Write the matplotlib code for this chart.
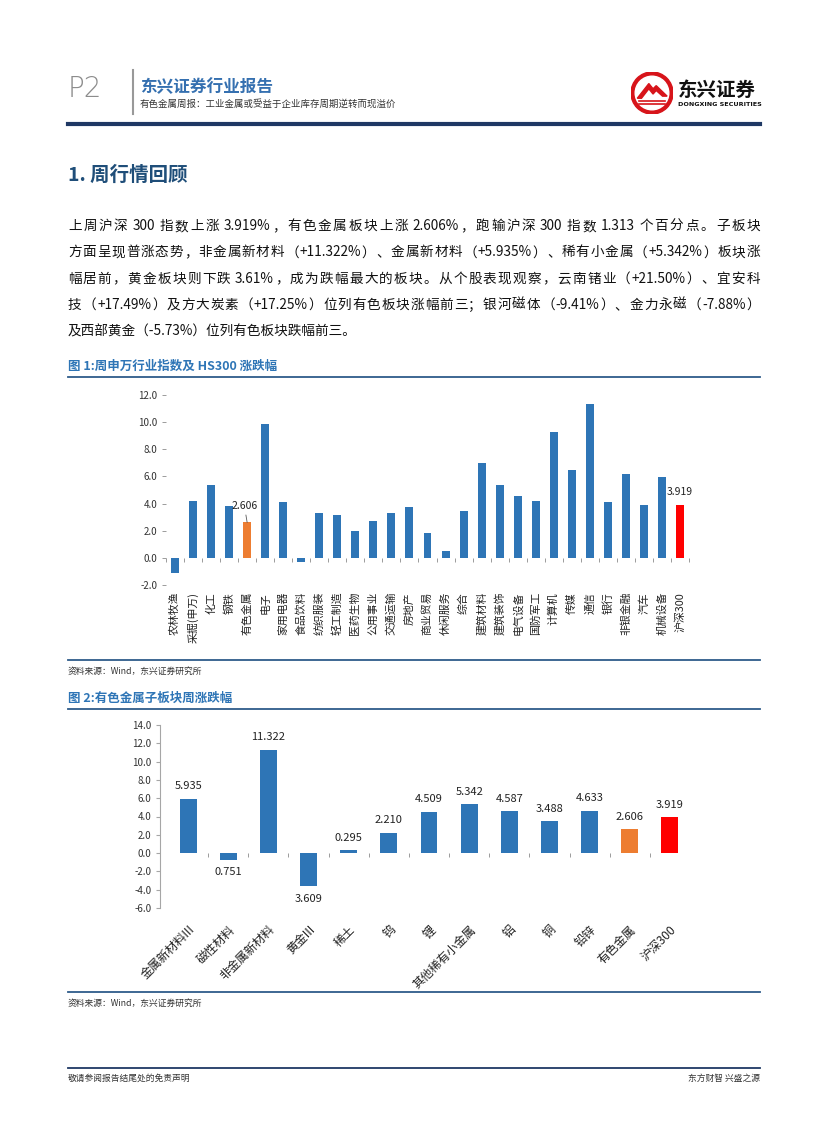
import re
import numpy as np
import matplotlib
matplotlib.use("Agg")
import matplotlib.pyplot as plt
from matplotlib.patches import Circle, Polygon

plt.rcParams['font.family'] = ['Noto Sans CJK SC', 'DejaVu Sans']
plt.rcParams['axes.unicode_minus'] = False

W, H = 827, 1122

# 图1: 申万行业周涨跌幅 (%)
sw_names = ['农林牧渔', '采掘(申万)', '化工', '钢铁', '有色金属', '电子', '家用电器',
            '食品饮料', '纺织服装', '轻工制造', '医药生物', '公用事业', '交通运输',
            '房地产', '商业贸易', '休闲服务', '综合', '建筑材料', '建筑装饰', '电气设备',
            '国防军工', '计算机', '传媒', '通信', '银行', '非银金融', '汽车', '机械设备',
            '沪深300']
sw_chg = [-1.10, 4.17, 5.35, 3.80, 2.606, 9.84, 4.10, -0.30, 3.29, 3.14, 1.96, 2.70,
          3.29, 3.73, 1.82, 0.49, 3.44, 6.97, 5.35, 4.54, 4.17, 9.25, 6.45, 11.31,
          4.10, 6.16, 3.88, 5.94, 3.919]

# 图2: 有色金属子板块周涨跌幅 (%)
sub_names = ['金属新材料III', '磁性材料', '非金属新材料', '黄金III', '稀土', '钨', '锂',
             '其他稀有小金属', '铝', '铜', '铅锌', '有色金属', '沪深300']
sub_chg = [5.935, -0.751, 11.322, -3.609, 0.295, 2.210, 4.509, 5.342, 4.587, 3.488,
           4.633, 2.606, 3.919]
sub_text = ['5.935', '0.751', '11.322', '3.609', '0.295', '2.210', '4.509', '5.342',
            '4.587', '3.488', '4.633', '2.606', '3.919']

body_lines = [
    '上周沪深 300 指数上涨 3.919%，有色金属板块上涨 2.606%，跑输沪深 300 指数 1.313 个百分点。子板块',
    '方面呈现普涨态势，非金属新材料（+11.322%）、金属新材料（+5.935%）、稀有小金属（+5.342%）板块涨',
    '幅居前，黄金板块则下跌 3.61%，成为跌幅最大的板块。从个股表现观察，云南锗业（+21.50%）、宜安科',
    '技（+17.49%）及方大炭素（+17.25%）位列有色板块涨幅前三；银河磁体（-9.41%）、金力永磁（-7.88%）',
    '及西部黄金（-5.73%）位列有色板块跌幅前三。',
]

BLUE = '#2E75B6'
ORANGE = '#ED7D31'
RED = '#FF0000'
NAVY = '#1F4E79'
GRID = '#8C8C8C'

fig = plt.figure(figsize=(W / 100, H / 100), dpi=100)
renderer = fig.canvas.get_renderer()


def fx(x):
    return x / W


def fy(y):
    return 1 - y / H


def hline(y, x0=68, x1=760, color=NAVY, lw=1.2):
    fig.add_artist(plt.Line2D([fx(x0), fx(x1)], [fy(y), fy(y)], color=color, lw=lw))


def text_w(s, size):
    # 末尾加 '|' 以便把空格也算进宽度
    t = fig.text(0, 0, s + '|', fontsize=size)
    w = t.get_window_extent(renderer).width
    t.remove()
    return w


def justified(line, y, size, x0=68, x1=760, last=False):
    if last:
        fig.text(fx(x0), fy(y), line, fontsize=size, color='#111111', va='center')
        return
    starts = [m.start() for m in re.finditer(r'[A-Za-z0-9.%+\-]+|[^\sA-Za-z0-9.%+\-]', line)]
    bar = text_w('', size)
    natural = text_w(line, size) - bar
    extra = (x1 - x0 - natural) / (len(starts) - 1)
    for i, st in enumerate(starts):
        end = starts[i + 1] if i + 1 < len(starts) else len(line)
        tok = line[st:end].strip()
        x = x0 + (text_w(line[:st], size) - bar) + extra * i
        fig.text(fx(x), fy(y), tok, fontsize=size, color='#111111', va='center')


# ---- 页眉 ----
fig.text(fx(68), fy(89), 'P2', fontsize=20, color='#8C8C8C', va='center',
         family=['DejaVu Sans'], fontweight='light')
fig.add_artist(plt.Line2D([fx(133), fx(133)], [fy(70), fy(114)], color='#999999', lw=1.5))
fig.text(fx(140), fy(87), '东兴证券行业报告', fontsize=12, fontweight='bold',
         color='#3570B0', va='center')
fig.text(fx(140), fy(104), '有色金属周报：工业金属或受益于企业库存周期逆转而现溢价',
         fontsize=6.8, color='#333333', va='center')

ax_logo = fig.add_axes([fx(631), fy(114), 42 / W, 42 / H])
ax_logo.set_xlim(-1, 1)
ax_logo.set_ylim(-1, 1)
ax_logo.axis('off')
ax_logo.add_patch(Circle((0, 0), 1.0, color='#D7141A'))
ax_logo.add_patch(Circle((0, 0), 0.8, color='white'))
ax_logo.add_patch(Polygon([(-0.7, -0.25), (-0.15, 0.45), (0.05, 0.2), (0.2, 0.35),
                           (0.72, -0.15), (0.5, -0.15), (0.2, 0.12), (0.05, -0.05),
                           (-0.15, 0.2), (-0.5, -0.25)], color='#D7141A'))
for dy in (-0.38, -0.5):
    ax_logo.plot([-0.6, 0.6], [dy, dy], color='#D7141A', lw=1.2)
fig.text(fx(678), fy(90), '东兴证券', fontsize=14, fontweight='bold', color='#111111',
         va='center')
fig.text(fx(678), fy(104), 'DONGXING SECURITIES', fontsize=4.6, fontweight='bold',
         color='#111111', va='center', family=['DejaVu Sans'])

hline(124, color='#1F3864', lw=3)

# ---- 正文 ----
fig.text(fx(68), fy(175), '1. 周行情回顾', fontsize=14, fontweight='bold', color=NAVY,
         va='center')
for i, line in enumerate(body_lines):
    justified(line, 226 + i * 26.3, 9.8, last=(i == len(body_lines) - 1))

# ---- 图1 ----
fig.text(fx(68), fy(366), '图 1:周申万行业指数及 HS300 涨跌幅', fontsize=9, fontweight='bold',
         color=BLUE, va='center')
hline(377, color='#2E5C8A', lw=1.3)

ax1 = fig.add_axes([fx(166), fy(585), (689 - 166) / W, (585 - 395) / H])
x1 = np.arange(len(sw_names))
c1 = [BLUE] * len(sw_names)
c1[sw_names.index('有色金属')] = ORANGE
c1[-1] = RED
ax1.bar(x1, sw_chg, width=0.44, color=c1)
ax1.set_xlim(-0.5, len(sw_names) - 0.5)
ax1.set_ylim(-2, 12)
ax1.set_yticks(np.arange(-2, 12.1, 2))
ax1.yaxis.set_major_formatter('{x:.1f}')
for s in ax1.spines.values():
    s.set_visible(False)
ax1.tick_params(axis='y', length=3, width=0.6, color=GRID, labelsize=7,
                labelcolor='#333333', pad=3)
ax1.set_xticks(x1)
ax1.set_xticklabels(sw_names, rotation=90, fontsize=7.8, color='#222222')
ax1.tick_params(axis='x', length=0, pad=5)
sec1 = ax1.secondary_xaxis(0, transform=ax1.transData)
sec1.set_xticks(np.arange(-0.5, len(sw_names), 1), labels=[])
sec1.tick_params(length=3, width=0.6, color=GRID)
for s in sec1.spines.values():
    s.set_visible(False)

i_ys = sw_names.index('有色金属')
ax1.annotate(f'{sw_chg[i_ys]:.3f}', xy=(i_ys, sw_chg[i_ys]), xytext=(-2, 12),
             textcoords='offset points', ha='center', va='center', fontsize=7.5,
             color='#222222',
             arrowprops=dict(arrowstyle='-', color='#595959', lw=0.6, shrinkA=1, shrinkB=0))
ax1.annotate(f'{sw_chg[-1]:.3f}', xy=(len(sw_names) - 1, sw_chg[-1]), xytext=(0, 9),
             textcoords='offset points', ha='center', va='center', fontsize=7.5,
             color='#222222')

hline(660, color='#2E5C8A', lw=1.3)
fig.text(fx(68), fy(671), '资料来源：Wind，东兴证券研究所', fontsize=6.3, color='#333333',
         va='center', style='italic')

# ---- 图2 ----
fig.text(fx(68), fy(698), '图 2:有色金属子板块周涨跌幅', fontsize=9, fontweight='bold',
         color=BLUE, va='center')
hline(709, color='#2E5C8A', lw=1.3)

ax2 = fig.add_axes([fx(160), fy(908), (690 - 160) / W, (908 - 725) / H])
x2 = np.arange(len(sub_names))
c2 = [BLUE] * len(sub_names)
c2[sub_names.index('有色金属')] = ORANGE
c2[-1] = RED
ax2.bar(x2, sub_chg, width=0.42, color=c2)
ax2.set_xlim(-0.7, len(sub_names) - 0.5)
ax2.set_ylim(-6, 14)
ax2.set_yticks(np.arange(-6, 14.1, 2))
ax2.yaxis.set_major_formatter('{x:.1f}')
for k in ('top', 'right', 'bottom'):
    ax2.spines[k].set_visible(False)
ax2.spines['left'].set_color('#A6A6A6')
ax2.spines['left'].set_linewidth(0.8)
ax2.tick_params(axis='y', length=3, width=0.8, color='#A6A6A6', labelsize=7,
                labelcolor='#333333', pad=3)
ax2.set_xticks(x2)
ax2.set_xticklabels(sub_names, rotation=45, ha='right', rotation_mode='anchor',
                    fontsize=8.6, color='#222222')
ax2.tick_params(axis='x', length=0, pad=11)
sec2 = ax2.secondary_xaxis(0, transform=ax2.transData)
sec2.set_xticks(np.arange(0.5, len(sub_names) - 1, 1), labels=[])
sec2.tick_params(length=3, width=0.6, color=GRID)
for s in sec2.spines.values():
    s.set_visible(False)

for xi, v, t in zip(x2, sub_chg, sub_text):
    ax2.annotate(t, xy=(xi, v), xytext=(0, 9 if v >= 0 else -9),
                 textcoords='offset points', ha='center', va='center', fontsize=8,
                 color='#222222')

hline(992, color='#2E5C8A', lw=1.3)
fig.text(fx(68), fy(1003), '资料来源：Wind，东兴证券研究所', fontsize=6.3, color='#333333',
         va='center', style='italic')

# ---- 页脚 ----
hline(1068, color='#1F3864', lw=1.3)
fig.text(fx(68), fy(1078), '敬请参阅报告结尾处的免责声明', fontsize=6.3, color='#333333',
         va='center')
fig.text(fx(760), fy(1078), '东方财智 兴盛之源', fontsize=6.3, color='#333333',
         va='center', ha='right')

fig.savefig('out.png', dpi=100)
